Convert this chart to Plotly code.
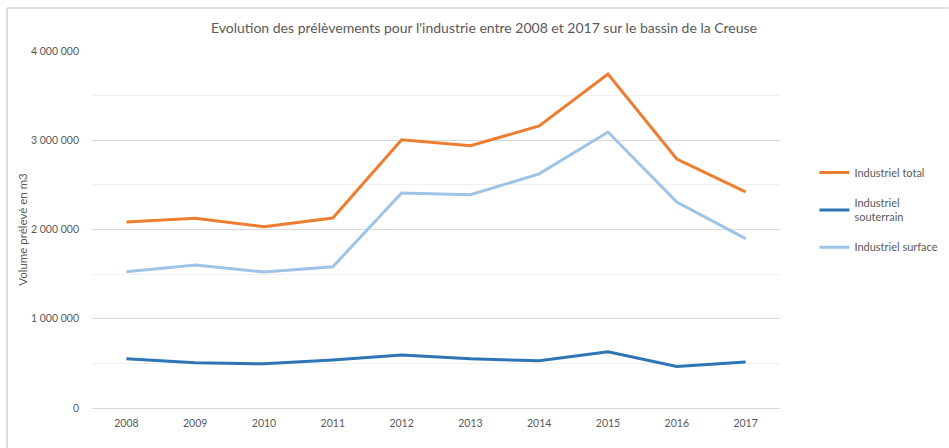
import plotly.graph_objects as go

years = ["2008", "2009", "2010", "2011", "2012", "2013", "2014", "2015", "2016", "2017"]
total = [2084000, 2125000, 2030000, 2129000, 3005000, 2938000, 3160000, 3742000, 2790000, 2422000]
souterrain = [551000, 507000, 495000, 538000, 594000, 551000, 529000, 630000, 466000, 516000]
surface = [1526000, 1602000, 1524000, 1582000, 2409000, 2389000, 2624000, 3092000, 2308000, 1898000]
yticks = [0, 1000000, 2000000, 3000000, 4000000]
yticklabels = ["0", "1 000 000", "2 000 000", "3 000 000", "4 000 000"]

FONT = "Lato, 'Open Sans', sans-serif"
fig = go.Figure()
fig.add_trace(go.Scatter(x=years, y=total, mode="lines", name="Industriel total", legendgroup="a",
                         line=dict(color="#ED7D31", width=3)))
fig.add_trace(go.Scatter(x=years, y=souterrain, mode="lines", name="Industriel<br>souterrain", legendgroup="b",
                         line=dict(color="#2E75B6", width=3)))
fig.add_trace(go.Scatter(x=years, y=surface, mode="lines", name="Industriel surface", legendgroup="c",
                         line=dict(color="#9DC3E6", width=3)))

fig.update_layout(
    width=949, height=448,
    margin=dict(l=92, r=169, t=51, b=40, autoexpand=False),
    paper_bgcolor="white", plot_bgcolor="white",
    font=dict(family=FONT, color="#595959", size=10),
    title=dict(text="Evolution des prélèvements pour l'industrie entre 2008 et 2017 sur le bassin de la Creuse",
               x=0.51, xanchor="center", y=0.938, yanchor="middle",
               font=dict(size=14, color="#595959", family=FONT)),
    legend=dict(x=1.05, y=0.70, xanchor="left", yanchor="top",
                font=dict(size=11, color="#595959"), tracegroupgap=12,
                itemwidth=30, bgcolor="rgba(0,0,0,0)"),
    showlegend=True,
)
fig.update_xaxes(type="category", range=[-0.5, 9.5], showgrid=False, showline=False, automargin=False,
                 ticks="", ticklabelstandoff=7, tickfont=dict(size=10.5, color="#595959"), zeroline=False)
fig.update_yaxes(range=[0, 4000000], tickvals=yticks, ticktext=yticklabels, automargin=False,
                 showgrid=True, gridcolor="#d9d9d9", gridwidth=1,
                 minor=dict(dtick=500000, showgrid=True, gridcolor="#f0f0f0", gridwidth=1),
                 zeroline=True, zerolinecolor="#d9d9d9", zerolinewidth=1,
                 ticks="", ticklabelstandoff=12, tickfont=dict(size=10.5, color="#595959"),
                 title=dict(text="Volume prélevé en m3", font=dict(size=11.5, color="#595959"), standoff=0))

# outer frame (top and left)
fig.add_shape(type="line", xref="paper", yref="paper", x0=-0.1235, x1=1.245, y0=1.1204, y1=1.1204,
              layer="above", line=dict(color="#d0d0d0", width=1.5))
fig.add_shape(type="line", xref="paper", yref="paper", x0=-0.1235, x1=-0.1235, y0=-0.112, y1=1.1204,
              layer="above", line=dict(color="#d0d0d0", width=1.5))

fig.write_html("out.html", config={"displayModeBar": False},
               post_script="document.body.style.margin='0';")
